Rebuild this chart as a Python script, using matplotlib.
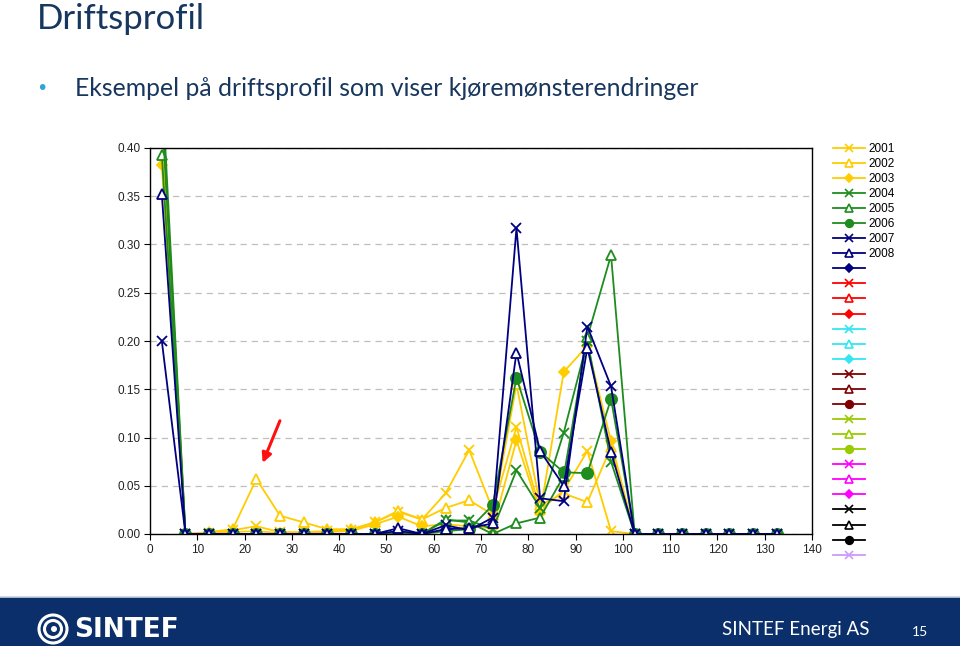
import matplotlib
matplotlib.use('Agg')
import matplotlib.pyplot as plt
from matplotlib.lines import Line2D
from matplotlib.patches import Rectangle, Ellipse
import numpy as np

# Fig geometry (pixels of the slide)
FIG_W = 960
FIG_H = 646
DPI = 100

TITLE = 'Driftsprofil'
BULLET = 'Eksempel på driftsprofil som viser kjøremønsterendringer'
FOOTER = 'SINTEF Energi AS'
PAGE = '15'

# bin centres on the x axis
x_vals = [2.5, 7.5, 12.5, 17.5, 22.5, 27.5, 32.5, 37.5, 42.5, 47.5, 52.5, 57.5, 62.5, 67.5,
          72.5, 77.5, 82.5, 87.5, 92.5, 97.5, 102.5, 107.5, 112.5, 117.5, 122.5, 127.5, 132.5]

years = ['2001', '2002', '2003', '2004', '2005', '2006', '2007', '2008']

y2001 = [0.45, 0.0, 0.001, 0.004, 0.008, 0.002, 0.002, 0.003, 0.004, 0.012, 0.023, 0.015, 0.042, 0.087,
         0.025, 0.111, 0.025, 0.045, 0.086, 0.003, 0, 0, 0, 0, 0, 0, 0]
y2002 = [0.42, 0.0, 0.002, 0.005, 0.057, 0.019, 0.012, 0.005, 0.005, 0.012, 0.024, 0.015, 0.027, 0.035,
         0.020, 0.155, 0.030, 0.042, 0.033, 0.090, 0, 0, 0, 0, 0, 0, 0]
y2003 = [0.382, 0.0, 0.001, 0.002, 0.003, 0.001, 0.001, 0.002, 0.003, 0.010, 0.018, 0.008, 0.010, 0.008,
         0.006, 0.097, 0.022, 0.168, 0.195, 0.096, 0, 0, 0, 0, 0, 0, 0]
y2004 = [0.47, 0.0, 0.0, 0.0, 0.0, 0.0, 0.0, 0.0, 0.0, 0.0, 0.0, 0.0, 0.014, 0.014,
         0.005, 0.066, 0.027, 0.105, 0.200, 0.075, 0, 0, 0, 0, 0, 0, 0]
y2005 = [0.393, 0.0, 0.0, 0.0, 0.0, 0.0, 0.0, 0.0, 0.0, 0.0, 0.0, 0.0, 0.015, 0.012,
         0.0, 0.011, 0.017, 0.060, 0.204, 0.289, 0, 0, 0, 0, 0, 0, 0]
y2006 = [0.44, 0.0, 0.0, 0.0, 0.0, 0.0, 0.0, 0.0, 0.0, 0.0, 0.0, 0.0, 0.003, 0.005,
         0.030, 0.162, 0.085, 0.064, 0.063, 0.140, 0, 0, 0, 0, 0, 0, 0]
y2007 = [0.200, 0.0, 0.0, 0.0, 0.0, 0.0, 0.0, 0.0, 0.0, 0.0, 0.003, 0.0, 0.009, 0.004,
         0.017, 0.317, 0.037, 0.034, 0.215, 0.153, 0, 0, 0, 0, 0, 0, 0]
y2008 = [0.352, 0.0, 0.0, 0.0, 0.0, 0.0, 0.0, 0.0, 0.0, 0.0, 0.006, 0.0, 0.005, 0.006,
         0.011, 0.188, 0.086, 0.050, 0.193, 0.085, 0, 0, 0, 0, 0, 0, 0]

series = [y2001, y2002, y2003, y2004, y2005, y2006, y2007, y2008]

YELLOW = '#FFCC00'
GREEN = '#1E8C1E'
NAVY = '#000080'
# (colour, marker) of every entry in the legend, the first 8 carry data
styles = [(YELLOW, 'x'), (YELLOW, '^'), (YELLOW, 'D'),
          (GREEN, 'x'), (GREEN, '^'), (GREEN, 'o'),
          (NAVY, 'x'), (NAVY, '^'), (NAVY, 'D'),
          ('#FF0000', 'x'), ('#FF0000', '^'), ('#FF0000', 'D'),
          ('#33E6F2', 'x'), ('#33E6F2', '^'), ('#33E6F2', 'D'),
          ('#800000', 'x'), ('#800000', '^'), ('#800000', 'o'),
          ('#99CC00', 'x'), ('#99CC00', '^'), ('#99CC00', 'o'),
          ('#FF00FF', 'x'), ('#FF00FF', '^'), ('#FF00FF', 'D'),
          ('#000000', 'x'), ('#000000', '^'), ('#000000', 'o'),
          ('#CC99FF', 'x')]

MSIZE = {'x': 7, '^': 7, 'D': 5, 'o': 8}
LEG_MSIZE = {'x': 5.5, '^': 5.5, 'D': 4, 'o': 5.5}

# arrow (data coords) pointing at the 2002 bump
ARROW_FROM = (27.7, 0.120)
ARROW_TO = (23.6, 0.071)

SLIDE_BLUE = '#17375E'
BAR_BLUE = '#0B2F6B'


def px(x, y):
    """pixel position (top-left origin) -> figure fraction"""
    return x / FIG_W, 1 - y / FIG_H


def main():
    fig = plt.figure(figsize=[FIG_W / DPI, FIG_H / DPI], dpi=DPI, facecolor='white')

    ax = fig.add_axes([150 / FIG_W, 1 - 534 / FIG_H, 662 / FIG_W, 386 / FIG_H])

    handles = []
    labels = []
    for i, (col, mk) in enumerate(styles):
        mfc = 'white' if mk == '^' else col
        if i < len(series):
            ax.plot(x_vals, series[i], color=col, marker=mk, ms=MSIZE[mk], mfc=mfc,
                    mec=col, mew=1.3, lw=1.3, clip_on=True)
            labels.append(years[i])
        else:
            labels.append('')
        handles.append(Line2D([], [], color=col, marker=mk, ms=LEG_MSIZE[mk], mfc=mfc,
                              mec=col, mew=1.2, lw=1.3))

    ax.set_xlim(0, 140)
    ax.set_ylim(0, 0.40)
    ax.set_xticks(np.arange(0, 141, 10))
    ax.set_yticks(np.arange(0, 0.401, 0.05))
    ax.set_yticklabels(['%.2f' % v for v in np.arange(0, 0.401, 0.05)])
    ax.yaxis.grid(True, color='#BFBFBF', linestyle=(0, (5, 4)), lw=0.9)
    ax.set_axisbelow(True)
    for sp in ax.spines.values():
        sp.set_linewidth(1.0)
    ax.tick_params(direction='out', length=4, width=0.8, labelsize=8.5, pad=3)
    for lab in ax.get_xticklabels() + ax.get_yticklabels():
        lab.set_fontfamily('Liberation Sans')
        lab.set_color('#222222')

    ax.annotate('', xy=ARROW_TO, xytext=ARROW_FROM,
                arrowprops=dict(arrowstyle='-|>', color='#FF1010', lw=2.2, mutation_scale=14))

    ax.legend(handles, labels, loc='upper left', bbox_to_anchor=(827 / FIG_W, 1 - 137 / FIG_H),
              bbox_transform=fig.transFigure, frameon=False,
              prop={'family': 'Liberation Sans', 'size': 8.5},
              handlelength=2.75, handletextpad=0.25, labelspacing=0.26, borderpad=0)

    # slide texts
    fig.text(*px(37, 19), TITLE, fontsize=25, color=SLIDE_BLUE, family='Lato', va='center', ha='left')
    fig.text(*px(42, 88), '\u2022', fontsize=14, color='#2FA3DC', va='center', ha='center', family='DejaVu Sans')
    fig.text(*px(75, 89), BULLET, fontsize=17.8, color=SLIDE_BLUE, family='Lato', va='center', ha='left')

    # footer bar
    fig.patches.append(Rectangle((0, 0), 1, 49 / FIG_H, transform=fig.transFigure,
                                 facecolor=BAR_BLUE, edgecolor='none', zorder=0))
    fig.lines.append(Line2D([0, 1], [49.5 / FIG_H, 49.5 / FIG_H], transform=fig.transFigure,
                            color='#C9D1DD', lw=1.2))
    # SINTEF logo, rough
    cx, cy = px(53, 629)
    fig.patches.append(Ellipse((cx, cy), 28 / FIG_W, 28 / FIG_H, transform=fig.transFigure,
                               facecolor='none', edgecolor='white', lw=2.2))
    fig.patches.append(Ellipse((cx, cy), 17 / FIG_W, 17 / FIG_H, transform=fig.transFigure,
                               facecolor='none', edgecolor='white', lw=2.2))
    fig.patches.append(Ellipse((cx + 1 / FIG_W, cy), 6 / FIG_W, 6 / FIG_H, transform=fig.transFigure,
                               facecolor='white', edgecolor='none'))
    fig.text(*px(74, 630), 'SINTEF', fontsize=19, color='white', family='DejaVu Sans',
             weight='bold', va='center', ha='left')
    fig.text(*px(722, 630), FOOTER, fontsize=13.5, color='white', family='Lato',
             va='center', ha='left')
    fig.text(*px(920, 632), PAGE, fontsize=10, color='white', family='Lato',
             va='center', ha='center')

    fig.savefig('out.png', dpi=DPI, facecolor='white')
    plt.close('all')


if __name__ == "__main__":
    main()
